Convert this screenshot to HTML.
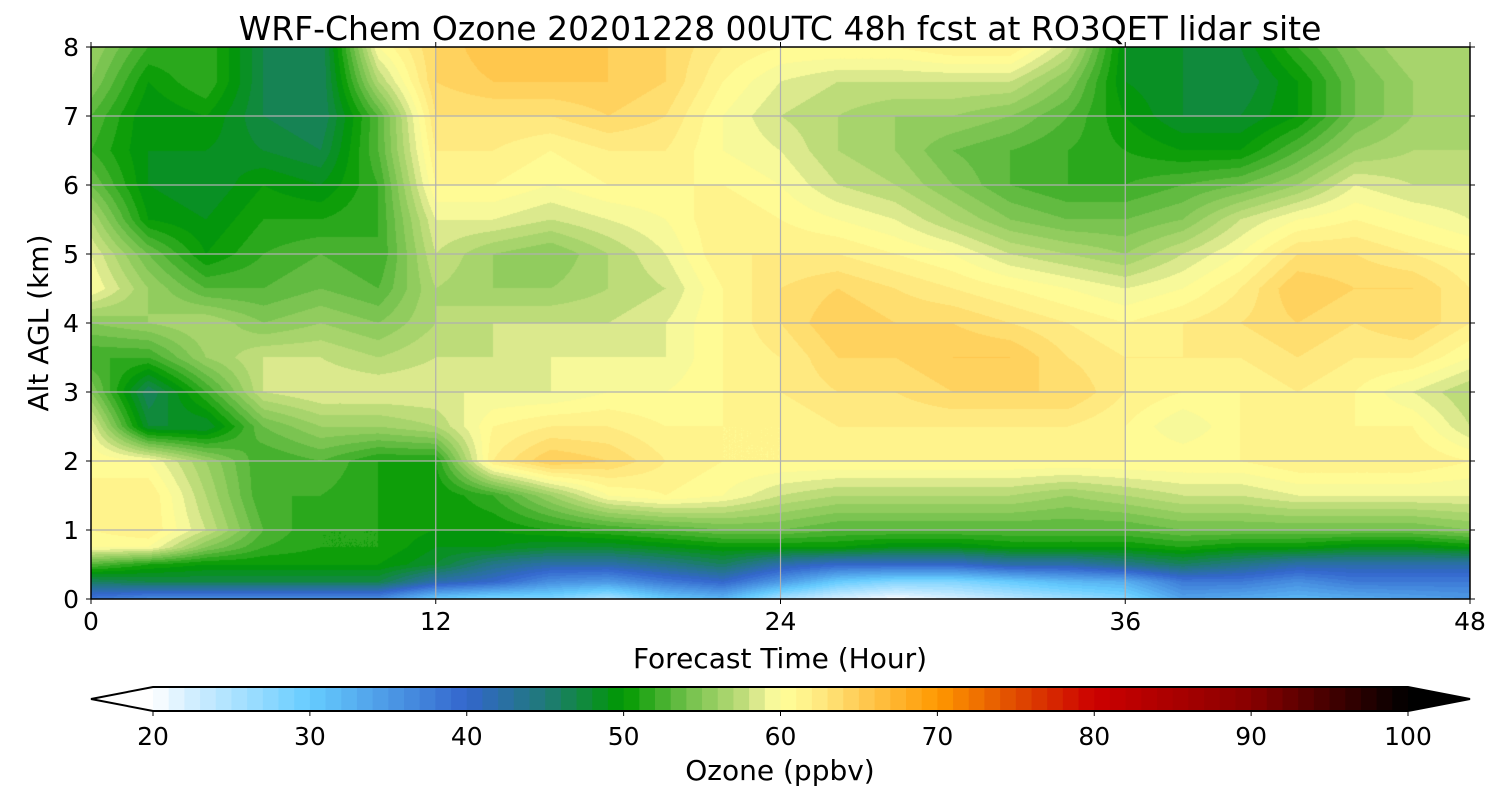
<!DOCTYPE html>
<html><head><meta charset="utf-8"><style>
body{margin:0;background:#fff;width:1500px;height:800px;overflow:hidden;font-family:"DejaVu Sans","Liberation Sans",sans-serif;}
#wrap{position:relative;width:1500px;height:800px;}
canvas{position:absolute;}
svg{position:absolute;left:0;top:0;}
</style></head><body>
<div id="wrap">
<canvas id="field" width="1379" height="552" style="left:91px;top:47px"></canvas>
<svg id="svg" width="1500" height="800" font-family="DejaVu Sans, Liberation Sans, sans-serif"></svg>
</div>
<script>
const hours=[0,2,4,6,8,10,12,14,16,18,20,22,24,26,28,30,32,34,36,38,40,42,44,46,48];
const alts=[0,0.25,0.5,0.75,1,1.5,2,2.5,3,3.5,4,4.5,5,5.5,6,6.5,7,7.5,8];
// ozone[hourIndex][altIndex]
const ozone=[
[38,46,53,60,61,61,61,59,55,52,55,60,59,57,54,52,53,55,56],
[36,47,51,60,62,62,60,48,46,52,56,56,54,50,49,49,49,50,52],
[36,47,50,55,58,57,56,48,52,56,57,53,50,49,48,49,50,52,52],
[36,47,50,52,53,52,52,54,58,58,55,53,52,51,50,48,47,47,47],
[36,47,50,51,51,52,53,56,59,58,56,54,53,51,49,47,46,46,46],
[36,47,50,51,51,51,51,56,59,57,55,53,52,52,52,53,53,57,60],
[30,42,48,49,50,50,51,57,59,58,57,57,58,59,61,62,63,64,64],
[28,40,44,49,50,52,62,61,59,58,58,56,56,59,61,62,63,65,66],
[28,36,42,48,51,56,65,62,59,59,58,56,55,58,60,61,63,65,66],
[25,35,42,48,52,60,64,62,60,59,58,57,57,59,61,62,64,65,65],
[30,38,44,49,53,61,62,61,60,59,59,58,59,60,61,62,63,64,64],
[32,40,46,50,54,60,61,61,61,61,61,61,62,62,61,60,60,61,62],
[25,35,42,50,54,58,61,61,62,62,63,63,62,61,60,59,58,59,61],
[22,30,40,50,53,57,61,62,63,64,65,64,62,60,58,57,57,58,61],
[20,28,40,49,53,57,61,62,63,64,64,63,61,59,57,56,56,58,61],
[22,28,40,49,53,57,61,62,64,65,64,62,60,57,55,54,56,58,62],
[24,30,42,50,53,57,61,62,64,65,63,61,58,55,53,53,55,58,62],
[26,32,42,50,53,56,61,62,64,63,62,60,57,54,52,52,53,55,58],
[28,33,44,50,53,57,61,61,62,62,61,59,56,54,52,51,50,49,49],
[34,38,46,51,54,58,61,59,61,62,62,60,58,55,53,50,48,48,48],
[33,38,44,50,54,58,61,61,61,62,63,62,60,58,54,50,48,47,48],
[32,36,42,50,54,59,62,62,62,63,64,65,63,60,56,53,50,50,52],
[33,38,42,49,54,59,62,61,61,62,63,64,63,61,59,56,54,54,55],
[34,38,42,49,54,59,62,61,59,62,64,64,62,60,58,57,56,56,57],
[35,38,42,50,55,59,61,58,57,60,62,62,61,59,58,57,57,57,57]];
const cbTicks=[20,30,40,50,60,70,80,90,100];
const xTicks=[0,12,24,36,48];
const yTicks=[0,1,2,3,4,5,6,7,8];
const stops=[[20,'#ffffff'],[22,'#d8f0ff'],[30,'#66ccff'],[40,'#3366cc'],[45,'#1f7a78'],[50,'#009900'],[54,'#70c04a'],[58,'#c8e080'],[59,'#eef29a'],[60,'#ffff99'],[62,'#ffef88'],[65,'#ffcc55'],[70,'#ff9900'],[75,'#e04a00'],[80,'#cc0000'],[90,'#880000'],[100,'#000000']];
function hex(c){return [parseInt(c.substr(1,2),16),parseInt(c.substr(3,2),16),parseInt(c.substr(5,2),16)];}
function cmap(v){v=Math.max(20,Math.min(99.5,v));for(let i=0;i<stops.length-1;i++){const a=stops[i],b=stops[i+1];if(v>=a[0]&&v<=b[0]){const t=(v-a[0])/(b[0]-a[0]);const ca=hex(a[1]),cb=hex(b[1]);return ca.map((x,k)=>Math.round(x+(cb[k]-x)*t));}}return [0,0,0];}
const X0=91,X1=1470,Y0=599,Y1=47;
const xs=h=>X0+(h-hours[0])/(hours[hours.length-1]-hours[0])*(X1-X0);
const ys=a=>Y0-(a-alts[0])/(alts[alts.length-1]-alts[0])*(Y0-Y1);
function seg(arr,v){for(let i=0;i<arr.length-1;i++)if(v<=arr[i+1])return i;return arr.length-2;}
const cv=document.getElementById('field'),ctx=cv.getContext('2d');
const W=cv.width,H=cv.height,img=ctx.createImageData(W,H);
for(let py=0;py<H;py++){const a=(Y0-(Y1+py+0.5))/(Y0-Y1)*alts[alts.length-1];const j=seg(alts,a);const ty=(a-alts[j])/(alts[j+1]-alts[j]);
 for(let px=0;px<W;px++){const h=(px+0.5)/W*hours[hours.length-1];const i=seg(hours,h);const tx=(h-hours[i])/(hours[i+1]-hours[i]);
  const v=ozone[i][j]*(1-tx)*(1-ty)+ozone[i+1][j]*tx*(1-ty)+ozone[i][j+1]*(1-tx)*ty+ozone[i+1][j+1]*tx*ty;
  const c=cmap(Math.floor(v)+0.5);const o=(py*W+px)*4;img.data[o]=c[0];img.data[o+1]=c[1];img.data[o+2]=c[2];img.data[o+3]=255;}}
ctx.putImageData(img,0,0);
const NS='http://www.w3.org/2000/svg',svg=document.getElementById('svg');
function el(t,at,txt){const e=document.createElementNS(NS,t);for(const k in at)e.setAttribute(k,at[k]);if(txt!==undefined)e.textContent=txt;svg.appendChild(e);return e;}
xTicks.slice(1,-1).forEach(h=>{const e=el('line',{x1:xs(h),x2:xs(h),y1:Y1,y2:Y0,stroke:'#b0b0b0','stroke-width':1.2});

});
yTicks.slice(1,-1).forEach(a=>{const e=el('line',{x1:X0,x2:X1,y1:ys(a),y2:ys(a),stroke:'#b0b0b0','stroke-width':1.2});

});
const fr=el('rect',{x:X0,y:Y1,width:X1-X0,height:Y0-Y1,fill:'none',stroke:'#000','stroke-width':1.5});


xTicks.forEach(h=>{el('line',{x1:xs(h),x2:xs(h),y1:Y0,y2:Y0+5,stroke:'#000'});el('line',{x1:xs(h),x2:xs(h),y1:Y1,y2:Y1-5,stroke:'#000'});
const t=el('text',{x:xs(h),y:Y0+31,'font-size':25,'text-anchor':'middle'},h);

});
yTicks.forEach(a=>{el('line',{x1:X0-5,x2:X0,y1:ys(a),y2:ys(a),stroke:'#000'});el('line',{x1:X1,x2:X1+5,y1:ys(a),y2:ys(a),stroke:'#000'});
const t=el('text',{x:X0-12,y:ys(a)+9,'font-size':25,'text-anchor':'end'},a);

});
const ti=el('text',{x:780,y:40,'font-size':33,'text-anchor':'middle'},'WRF-Chem Ozone 20201228 00UTC 48h fcst at RO3QET lidar site');


const xl=el('text',{x:780,y:668,'font-size':28,'text-anchor':'middle'},'Forecast Time (Hour)');


const yl=el('text',{x:48,y:323,'font-size':28,'text-anchor':'middle',transform:'rotate(-90 48 323)'},'Alt AGL (km)');


const C0=153,C1=1408,CY=687,CH=24,vmin=20,vmax=100;
const cx=v=>C0+(v-vmin)/(vmax-vmin)*(C1-C0);
for(let v=vmin;v<vmax;v++){const c=cmap(v+0.5);const r=el('rect',{x:cx(v),y:CY,width:cx(v+1)-cx(v)+0.6,height:CH,fill:'rgb('+c.join(',')+')'});

}
const lt=el('polygon',{points:`${C0},${CY} 91,${CY+CH/2} ${C0},${CY+CH}`,fill:'#fff'});


const rt=el('polygon',{points:`${C1},${CY} 1470,${CY+CH/2} ${C1},${CY+CH}`,fill:'#000'});


const ob=el('polygon',{points:`${C0},${CY} ${C1},${CY} 1470,${CY+CH/2} ${C1},${CY+CH} ${C0},${CY+CH} 91,${CY+CH/2}`,fill:'none',stroke:'#000','stroke-width':2});


cbTicks.forEach(v=>{el('line',{x1:cx(v),x2:cx(v),y1:CY+CH,y2:CY+CH+5,stroke:'#000'});
const t=el('text',{x:cx(v),y:745,'font-size':25,'text-anchor':'middle'},v);

});
const cl=el('text',{x:780,y:780,'font-size':28,'text-anchor':'middle','xml:space':'preserve'},'Ozone  (ppbv)');


</script>
</body></html>
